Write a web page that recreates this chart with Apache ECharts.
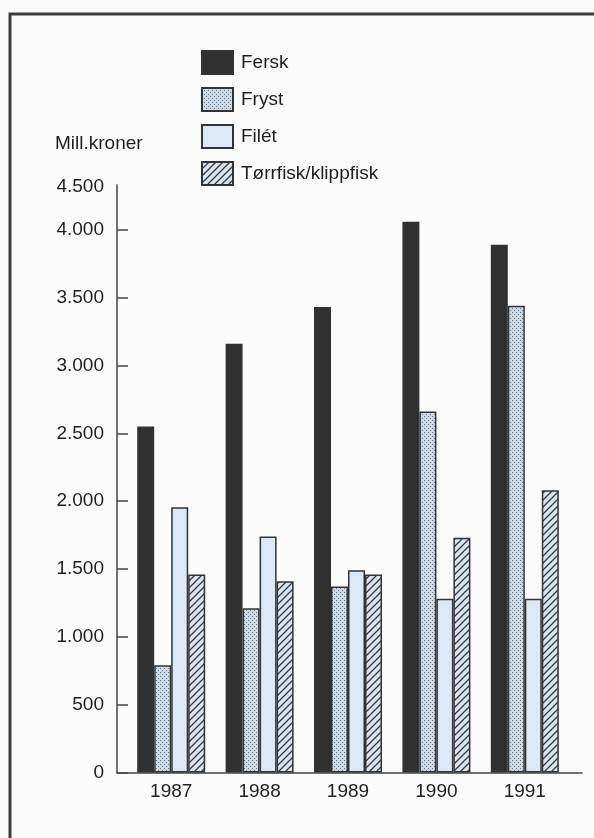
<!DOCTYPE html>
<html>
<head>
<meta charset="utf-8">
<script src="https://cdn.jsdelivr.net/npm/echarts@6/dist/echarts.min.js"></script>
<style>
  html, body { margin: 0; padding: 0; background: #fbfbfb; }
  #chart { width: 594px; height: 838px; }
</style>
</head>
<body>
<div id="chart"></div>
<script>
// Eksportverdi per produktgruppe, mill. kroner
const years = ['1987', '1988', '1989', '1990', '1991'];
const fersk = [2550, 3160, 3430, 4060, 3890];
const fryst = [790, 1210, 1370, 2660, 3440];
const filet = [1955, 1740, 1490, 1280, 1280];
const torrfisk = [1460, 1410, 1460, 1730, 2080];

const seriesNames = ['Fersk', 'Fryst', 'Filét', 'Tørrfisk/klippfisk'];
const yTickValues = [0, 500, 1000, 1500, 2000, 2500, 3000, 3500, 4000];
const yTickLabels = ['0', '500', '1.000', '1.500', '2.000', '2.500', '3.000', '3.500', '4.000', '4.500'];
const unitLabel = 'Mill.kroner';

const FONT = '"Liberation Sans", Arial, Helvetica, sans-serif';
const INK = '#1e1e1e';
const FS = 19;

// Fill patterns: fine dot raster and diagonal hatching
function dotPattern() {
  const c = document.createElement('canvas');
  c.width = 4; c.height = 4;
  const g = c.getContext('2d');
  g.fillStyle = '#cbd8e6';
  g.fillRect(0, 0, 4, 4);
  g.fillStyle = '#6f7b88';
  g.fillRect(0, 0, 1, 1);
  g.fillRect(2, 2, 1, 1);
  return c;
}
function hatchPattern() {
  const s = 7;
  const c = document.createElement('canvas');
  c.width = s; c.height = s;
  const g = c.getContext('2d');
  g.fillStyle = '#d7e5f4';
  g.fillRect(0, 0, s, s);
  g.strokeStyle = '#3a3a3a';
  g.lineWidth = 1.3;
  g.beginPath();
  g.moveTo(0, s); g.lineTo(s, 0);
  g.moveTo(-1, 1); g.lineTo(1, -1);
  g.moveTo(s - 1, s + 1); g.lineTo(s + 1, s - 1);
  g.stroke();
  return c;
}

const fills = [
  '#303030',
  { image: dotPattern(), repeat: 'repeat' },
  '#dbe8f7',
  { image: hatchPattern(), repeat: 'repeat' }
];
const values = [fersk, fryst, filet, torrfisk];

const Y_MAX = 4330;
const gridTop = 185, gridBottom = 65.5;

const chart = echarts.init(document.getElementById('chart'), null, { renderer: 'canvas' });

chart.setOption({
  backgroundColor: '#fbfbfb',
  animation: false,
  textStyle: { fontFamily: FONT, color: INK },
  title: {
    text: unitLabel,
    left: 50, top: 129,
    textStyle: { fontFamily: FONT, fontSize: FS, fontWeight: 'normal', color: INK }
  },
  legend: {
    orient: 'vertical',
    left: 196, top: 45,
    itemWidth: 31, itemHeight: 23,
    itemGap: 12,
    icon: 'rect',
    data: seriesNames,
    textStyle: { fontFamily: FONT, fontSize: FS, color: INK, padding: [0, 0, 0, 3] }
  },
  graphic: [{
    type: 'rect',
    shape: { x: 10, y: 14, width: 620, height: 900 },
    style: { fill: null, stroke: '#3c3c3c', lineWidth: 3 },
    silent: true
  }],
  grid: [
    { left: 117, right: 12, top: gridTop, bottom: gridBottom },
    { left: 127, width: 442, top: gridTop, bottom: gridBottom }
  ],
  xAxis: [
    {
      gridIndex: 0, type: 'category', data: years,
      axisLine: { show: true, lineStyle: { color: '#444', width: 1.5 } },
      axisTick: { show: false }, axisLabel: { show: false }
    },
    {
      gridIndex: 1, type: 'category', data: years,
      axisLine: { show: false }, axisTick: { show: false },
      axisLabel: { margin: 10, fontSize: FS, color: INK, fontFamily: FONT }
    }
  ],
  yAxis: [
    {
      gridIndex: 0, type: 'value', min: 0, max: Y_MAX,
      name: yTickLabels[yTickLabels.length - 1],
      nameLocation: 'end', nameGap: -11,
      nameTextStyle: { fontSize: FS, color: INK, fontFamily: FONT, align: 'right', padding: [0, 13, 0, 0] },
      axisLine: { show: true, lineStyle: { color: '#444', width: 1.5 } },
      axisTick: { show: true, inside: true, length: 11, customValues: yTickValues, lineStyle: { color: '#444', width: 1.5 } },
      axisLabel: {
        customValues: yTickValues, margin: 13, fontSize: FS, color: INK, fontFamily: FONT,
        formatter: v => yTickLabels[yTickValues.indexOf(v)]
      },
      splitLine: { show: false }
    },
    {
      gridIndex: 1, type: 'value', min: 0, max: Y_MAX, show: false,
      splitLine: { show: false }
    }
  ],
  series: seriesNames.map((name, i) => ({
    name,
    type: 'bar',
    xAxisIndex: 1, yAxisIndex: 1,
    data: values[i],
    barWidth: 17,
    barGap: '0%',
    itemStyle: { color: fills[i], borderColor: '#333', borderWidth: 1.5 }
  }))
});
</script>
</body>
</html>
